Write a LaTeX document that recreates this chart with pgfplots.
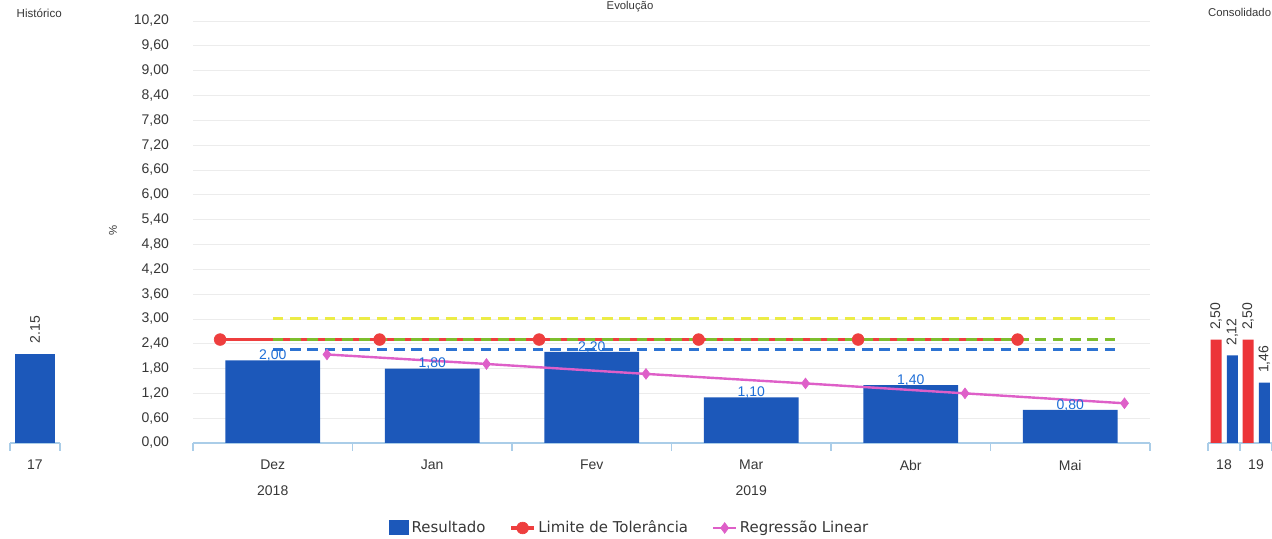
\documentclass[border=0pt]{standalone}
\usepackage{pgfplots}
\pgfplotsset{compat=1.18}
\usepackage{fontspec}
\setmainfont{Liberation Sans}
\newfontfamily\legfont{DejaVu Sans}
\definecolor{barblue}{RGB}{28,88,186}
\definecolor{lblblue}{RGB}{30,110,215}
\definecolor{tolred}{RGB}{238,62,62}
\definecolor{barred}{RGB}{236,52,56}
\definecolor{regmag}{RGB}{222,95,200}
\definecolor{dashyel}{RGB}{236,236,70}
\definecolor{dashgrn}{RGB}{125,190,45}
\definecolor{dashblu}{RGB}{45,115,210}
\definecolor{axblue}{RGB}{170,205,232}
\definecolor{txt}{RGB}{55,55,55}
\pgfplotsset{
  base/.style={
    scale only axis, height=316.5pt, ymin=0, ymax=10.2,
    axis x line*=bottom, axis y line*=left,
    x axis line style={draw=axblue, line width=0.8pt},
    y axis line style={draw=none},
    tick align=outside, major tick length=6pt,
    xtick style={draw=axblue, line width=0.8pt},
    xticklabels={},
    /pgf/number format/assume math mode=true,
    tick label style={font=\fontsize{10.5}{12}\selectfont, text=txt},
    extra x tick style={major tick length=0pt, tick style={draw=none}, tick label style={anchor=center, yshift=-16.5pt}},
    clip=false,
  },
  rlabel/.style={every node near coord/.style={xshift=#1, rotate=90, anchor=west, inner xsep=7pt, inner ysep=0pt, text=txt, font=\fontsize{10.5}{12}\selectfont}},
}
\begin{document}
\begin{tikzpicture}
% ---------------- main axis ----------------
\begin{axis}[base, at={(144.75pt,72pt)}, anchor=south west, width=717.75pt,
  xmin=-0.5, xmax=5.5,
  xtick={-0.5,0.5,1.5,2.5,3.5,4.5,5.5},
  extra x ticks={0,1,2,3,4,5},
  extra x tick labels={Dez,Jan,Fev,Mar,Abr,Mai},
  ytick={0,0.6,1.2,1.8,2.4,3.0,3.6,4.2,4.8,5.4,6.0,6.6,7.2,7.8,8.4,9.0,9.6,10.2},
  ytick style={draw=none},
  yticklabel style={/pgf/number format/fixed, /pgf/number format/fixed zerofill, /pgf/number format/precision=2, /pgf/number format/use comma, anchor=east, xshift=-8.5pt},
  ymajorgrids, major grid style={gray!15, line width=0.5pt},
  legend columns=3,
  legend style={at={(0.4566,-0.2014)}, anchor=center, draw=none, fill=none,
    font=\legfont\fontsize{11.2}{13}\selectfont, text=txt,
    /tikz/every even column/.append style={column sep=16pt}},
]
\addplot[ybar, bar width=71pt, fill=barblue, draw=none,
  legend image code/.code={\fill[barblue] (0pt,-5.5pt) rectangle (15pt,6pt);},
  nodes near coords={\pgfmathprintnumber[fixed,fixed zerofill,precision=2,use comma]{\pgfplotspointmeta}},
  every node near coord/.append style={text=lblblue, font=\fontsize{10.5}{12}\selectfont, anchor=center, yshift=3.5pt, inner sep=0pt}]
  coordinates {(0,2.00) (1,1.80) (2,2.20) (3,1.10) (4,1.40) (5,0.80)};
\addlegendentry{Resultado}
\addplot[forget plot, dashyel, line width=2.2pt, dash pattern=on 8pt off 5pt] coordinates {(0,3.0) (5.3,3.0)};
\addplot[forget plot, dashblu, line width=2.2pt, dash pattern=on 8pt off 5pt] coordinates {(0,2.27) (5.3,2.27)};
\addplot[tolred, line width=2.6pt, mark=*, mark size=4.4pt, mark options={fill=tolred, draw=tolred, line width=0.5pt}]
  coordinates {(-0.33,2.5) (0.67,2.5) (1.67,2.5) (2.67,2.5) (3.67,2.5) (4.67,2.5)};
\addlegendentry{Limite de Tolerância}
\addplot[forget plot, dashgrn, line width=2.2pt, dash pattern=on 8pt off 5pt] coordinates {(0,2.5) (5.3,2.5)};
\addplot[regmag, line width=1.8pt, mark=diamond*, mark size=4pt, mark options={fill=regmag, draw=regmag, line width=0.5pt}]
  coordinates {(0.34,2.14) (1.34,1.91) (2.34,1.67) (3.34,1.44) (4.34,1.20) (5.34,0.96)};
\addlegendentry{Regressão Linear}
\node[font=\fontsize{10.5}{12}\selectfont, text=txt] at (axis cs:0,0) [yshift=-36pt] {2018};
\node[font=\fontsize{10.5}{12}\selectfont, text=txt] at (axis cs:3,0) [yshift=-36pt] {2019};
\end{axis}
% ---------------- left axis (Histórico) ----------------
\begin{axis}[base, at={(7.5pt,72pt)}, anchor=south west, width=37.5pt,
  xmin=-0.5, xmax=0.5, xtick={-0.5,0.5}, ytick=\empty,
  extra x ticks={0}, extra x tick labels={17}]
\addplot[ybar, bar width=30pt, fill=barblue, draw=none,
  nodes near coords={\pgfmathprintnumber[fixed,fixed zerofill,precision=2]{\pgfplotspointmeta}},
  rlabel=0pt, every node near coord/.append style={inner xsep=8pt}]
  coordinates {(0,2.15)};
\end{axis}
% ---------------- right axis (Consolidado) ----------------
\begin{axis}[base, at={(906pt,72pt)}, anchor=south west, width=48pt,
  xmin=-0.5, xmax=1.5, xtick={-0.5,0.5,1.5}, ytick=\empty,
  extra x ticks={0,1}, extra x tick labels={18,19},
  nodes near coords={\pgfmathprintnumber[fixed,fixed zerofill,precision=2,use comma]{\pgfplotspointmeta}}]
\addplot[ybar, bar width=8.25pt, bar shift=-6pt, fill=barred, draw=none, rlabel=-6pt] coordinates {(0,2.50) (1,2.50)};
\addplot[ybar, bar width=8.25pt, bar shift=6.2pt, fill=barblue, draw=none, rlabel=6.2pt] coordinates {(0,2.12) (1,1.46)};
\end{axis}
% ---------------- texts ----------------
\node[anchor=west, font=\fontsize{8.7}{10}\selectfont, text=txt] at (9pt,394.5pt) {Histórico};
\node[anchor=east, inner sep=0.5pt, font=\fontsize{8.5}{10}\selectfont, text=txt] at (954pt,395.25pt) {Consolidado};
\node[anchor=north, inner sep=0.5pt, font=\fontsize{8.5}{10}\selectfont, text=txt] at (472.5pt,404.25pt) {Evolução};
\node[rotate=90, font=\fontsize{8.5}{10}\selectfont, text=txt] at (84.75pt,231.75pt) {\%};
\pgfresetboundingbox
\useasboundingbox (0pt,0pt) rectangle (954pt,404.25pt);
\end{tikzpicture}
\end{document}
